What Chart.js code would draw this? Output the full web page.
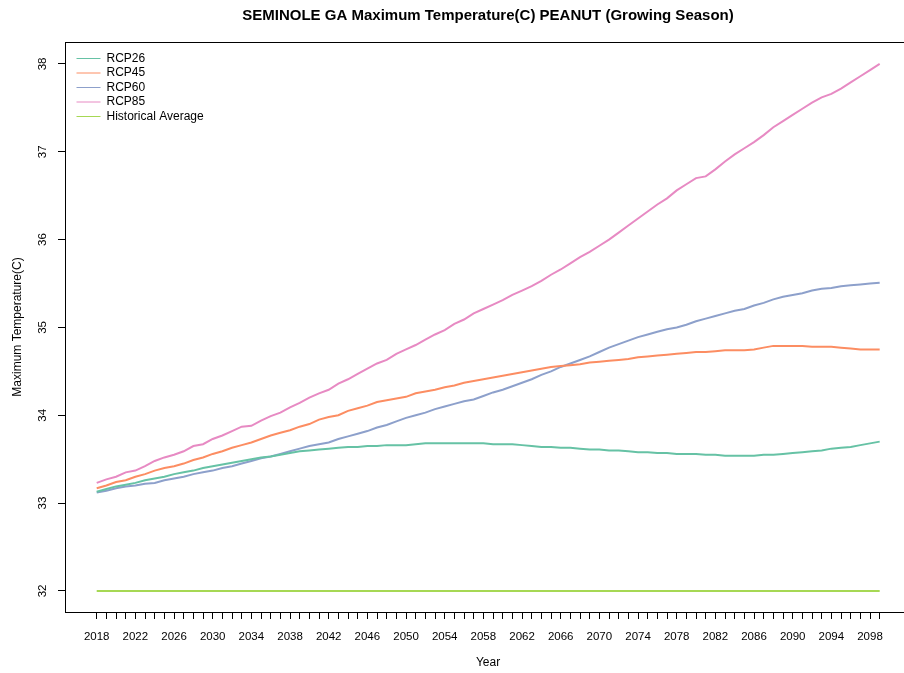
<!DOCTYPE html>
<html lang="en">
<head>
  <meta charset="UTF-8" />
  <title>SEMINOLE GA Maximum Temperature(C) PEANUT</title>
  <script src="https://cdn.jsdelivr.net/npm/chart.js"></script>
  <style>
    html, body { margin: 0; padding: 0; background: #fff; overflow: hidden; }
    .grafico-container { position: relative; width: 976px; height: 673px; }
  </style>
</head>
<body>
  <div class="grafico-container">
    <canvas id="graficoTemp"></canvas>
  </div>

<script>
  const anos = [2018, 2019, 2020, 2021, 2022, 2023, 2024, 2025, 2026, 2027,
    2028, 2029, 2030, 2031, 2032, 2033, 2034, 2035, 2036, 2037,
    2038, 2039, 2040, 2041, 2042, 2043, 2044, 2045, 2046, 2047,
    2048, 2049, 2050, 2051, 2052, 2053, 2054, 2055, 2056, 2057,
    2058, 2059, 2060, 2061, 2062, 2063, 2064, 2065, 2066, 2067,
    2068, 2069, 2070, 2071, 2072, 2073, 2074, 2075, 2076, 2077,
    2078, 2079, 2080, 2081, 2082, 2083, 2084, 2085, 2086, 2087,
    2088, 2089, 2090, 2091, 2092, 2093, 2094, 2095, 2096, 2097,
    2098, 2099];

  const rcp26 = [33.13, 33.16, 33.19, 33.21, 33.23, 33.26, 33.28, 33.30, 33.33, 33.35,
    33.37, 33.40, 33.42, 33.44, 33.46, 33.48, 33.50, 33.52, 33.53, 33.55,
    33.57, 33.59, 33.60, 33.61, 33.62, 33.63, 33.64, 33.64, 33.65, 33.65,
    33.66, 33.66, 33.66, 33.67, 33.68, 33.68, 33.68, 33.68, 33.68, 33.68,
    33.68, 33.67, 33.67, 33.67, 33.66, 33.65, 33.64, 33.64, 33.63, 33.63,
    33.62, 33.61, 33.61, 33.60, 33.60, 33.59, 33.58, 33.58, 33.57, 33.57,
    33.56, 33.56, 33.56, 33.55, 33.55, 33.54, 33.54, 33.54, 33.54, 33.55,
    33.55, 33.56, 33.57, 33.58, 33.59, 33.60, 33.62, 33.63, 33.64, 33.66,
    33.68, 33.70];

  const rcp45 = [33.17, 33.20, 33.24, 33.26, 33.30, 33.33, 33.37, 33.40, 33.42, 33.45,
    33.49, 33.52, 33.56, 33.59, 33.63, 33.66, 33.69, 33.73, 33.77, 33.80,
    33.83, 33.87, 33.90, 33.95, 33.98, 34.00, 34.05, 34.08, 34.11, 34.15,
    34.17, 34.19, 34.21, 34.25, 34.27, 34.29, 34.32, 34.34, 34.37, 34.39,
    34.41, 34.43, 34.45, 34.47, 34.49, 34.51, 34.53, 34.55, 34.56, 34.57,
    34.58, 34.60, 34.61, 34.62, 34.63, 34.64, 34.66, 34.67, 34.68, 34.69,
    34.70, 34.71, 34.72, 34.72, 34.73, 34.74, 34.74, 34.74, 34.75, 34.77,
    34.79, 34.79, 34.79, 34.79, 34.78, 34.78, 34.78, 34.77, 34.76, 34.75,
    34.75, 34.75];

  const rcp60 = [33.12, 33.14, 33.17, 33.19, 33.20, 33.22, 33.23, 33.26, 33.28, 33.30,
    33.33, 33.35, 33.37, 33.40, 33.42, 33.45, 33.48, 33.51, 33.53, 33.56,
    33.59, 33.62, 33.65, 33.67, 33.69, 33.73, 33.76, 33.79, 33.82, 33.86,
    33.89, 33.93, 33.97, 34.00, 34.03, 34.07, 34.10, 34.13, 34.16, 34.18,
    34.22, 34.26, 34.29, 34.33, 34.37, 34.41, 34.46, 34.50, 34.55, 34.59,
    34.63, 34.67, 34.72, 34.77, 34.81, 34.85, 34.89, 34.92, 34.95, 34.98,
    35.00, 35.03, 35.07, 35.10, 35.13, 35.16, 35.19, 35.21, 35.25, 35.28,
    35.32, 35.35, 35.37, 35.39, 35.42, 35.44, 35.45, 35.47, 35.48, 35.49,
    35.50, 35.51];

  const rcp85 = [33.23, 33.27, 33.30, 33.35, 33.37, 33.42, 33.48, 33.52, 33.55, 33.59,
    33.65, 33.67, 33.73, 33.77, 33.82, 33.87, 33.88, 33.94, 33.99, 34.03,
    34.09, 34.14, 34.20, 34.25, 34.29, 34.36, 34.41, 34.47, 34.53, 34.59,
    34.63, 34.70, 34.75, 34.80, 34.86, 34.92, 34.97, 35.04, 35.09, 35.16,
    35.21, 35.26, 35.31, 35.37, 35.42, 35.47, 35.53, 35.60, 35.66, 35.73,
    35.80, 35.86, 35.93, 36.00, 36.08, 36.16, 36.24, 36.32, 36.40, 36.47,
    36.56, 36.63, 36.70, 36.72, 36.80, 36.89, 36.97, 37.04, 37.11, 37.19,
    37.28, 37.35, 37.42, 37.49, 37.56, 37.62, 37.66, 37.72, 37.79, 37.86,
    37.93, 38.00];

  const historico = [32, 32, 32, 32, 32, 32, 32, 32, 32, 32,
    32, 32, 32, 32, 32, 32, 32, 32, 32, 32,
    32, 32, 32, 32, 32, 32, 32, 32, 32, 32,
    32, 32, 32, 32, 32, 32, 32, 32, 32, 32,
    32, 32, 32, 32, 32, 32, 32, 32, 32, 32,
    32, 32, 32, 32, 32, 32, 32, 32, 32, 32,
    32, 32, 32, 32, 32, 32, 32, 32, 32, 32,
    32, 32, 32, 32, 32, 32, 32, 32, 32, 32,
    32, 32];

  const anosRotulados = [2018, 2022, 2026, 2030, 2034, 2038, 2042, 2046, 2050, 2054,
    2058, 2062, 2066, 2070, 2074, 2078, 2082, 2086, 2090, 2094, 2098];
  const ticksY = [32, 33, 34, 35, 36, 37, 38];

  const series = [
    { nome: "RCP26", valores: rcp26, cor: "#66C2A5" },
    { nome: "RCP45", valores: rcp45, cor: "#FC8D62" },
    { nome: "RCP60", valores: rcp60, cor: "#8DA0CB" },
    { nome: "RCP85", valores: rcp85, cor: "#E78AC3" },
    { nome: "Historical Average", valores: historico, cor: "#A6D854" }
  ];

  const fonte = "'Liberation Sans', Arial, sans-serif";
  Chart.defaults.font.family = fonte;
  Chart.defaults.color = "#000";

  // moldura do grafico (estilo R)
  const moldura = {
    id: "moldura",
    afterDraw(chart) {
      const { ctx, chartArea: a } = chart;
      ctx.save();
      ctx.strokeStyle = "#000";
      ctx.lineWidth = 1;
      ctx.strokeRect(a.left + 0.5, a.top + 0.5, a.right - a.left, a.bottom - a.top);
      ctx.restore();
    }
  };

  // rotulos do eixo Y girados 90 graus, como no R
  const rotulosY = {
    id: "rotulosY",
    afterDraw(chart) {
      const { ctx } = chart;
      const escala = chart.scales.y;
      ctx.save();
      ctx.fillStyle = "#000";
      ctx.font = "11.5px " + fonte;
      ctx.textAlign = "center";
      ctx.textBaseline = "middle";
      escala.ticks.forEach(t => {
        const py = escala.getPixelForValue(t.value);
        ctx.save();
        ctx.translate(43, py);
        ctx.rotate(-Math.PI / 2);
        ctx.fillText(String(t.value), 0, 0);
        ctx.restore();
      });
      ctx.restore();
    }
  };

  // coloca a legenda dentro da area, no canto superior esquerdo
  const ajusteLegenda = {
    id: "ajusteLegenda",
    afterLayout(chart) {
      const l = chart.legend;
      if (!l) return;
      const a = chart.chartArea;
      const w = l.right - l.left, h = l.bottom - l.top;
      l.left = a.left + 9; l.right = l.left + w;
      l.top = a.top + 8; l.bottom = l.top + h;
    }
  };

  const ctx = document.getElementById("graficoTemp").getContext("2d");
  new Chart(ctx, {
    type: "line",
    data: {
      datasets: series.map(s => ({
        label: s.nome,
        data: anos.map((a, i) => ({ x: a, y: s.valores[i] })),
        borderColor: s.cor,
        backgroundColor: s.cor,
        borderWidth: 2,
        pointRadius: 0,
        tension: 0,
        fill: false
      }))
    },
    options: {
      responsive: true,
      maintainAspectRatio: false,
      animation: false,
      layout: { padding: 0 },
      plugins: {
        title: {
          display: true,
          text: "SEMINOLE GA Maximum Temperature(C) PEANUT (Growing Season)",
          font: { size: 15, weight: "bold" },
          color: "#000",
          padding: { top: 7, bottom: 17 }
        },
        legend: {
          position: "chartArea",
          align: "start",
          labels: {
            usePointStyle: true,
            pointStyle: "line",
            pointStyleWidth: 24,
            padding: 2.5,
            font: { size: 12 },
            color: "#000",
            generateLabels: chart => {
              const itens = Chart.defaults.plugins.legend.labels.generateLabels(chart);
              itens.forEach(it => { it.lineWidth = 1; });
              return itens;
            }
          }
        },
        tooltip: { enabled: false }
      },
      scales: {
        x: {
          type: "linear",
          min: 2014.72,
          max: 2102.24,
          afterBuildTicks: scale => { scale.ticks = anos.map(v => ({ value: v })); },
          afterFit: scale => { scale.height = 61; },
          grid: { drawOnChartArea: false, tickLength: 7, color: "#000" },
          border: { display: false },
          ticks: {
            autoSkip: false,
            maxRotation: 0,
            minRotation: 0,
            padding: 11,
            font: { size: 11.5 },
            callback: v => anosRotulados.includes(v) ? String(v) : ""
          },
          title: { display: true, text: "Year", font: { size: 12 }, padding: { top: 0, bottom: 3 } }
        },
        y: {
          type: "linear",
          position: "left",
          min: 31.76,
          max: 38.25,
          afterBuildTicks: scale => { scale.ticks = ticksY.map(v => ({ value: v })); },
          afterFit: scale => { scale.width = 65; },
          grid: { drawOnChartArea: false, tickLength: 7, color: "#000" },
          border: { display: false },
          ticks: { display: false },
          title: { display: true, text: "Maximum Temperature(C)", font: { size: 12 }, padding: { top: 10, bottom: 0 } }
        },
        margemDireita: {
          type: "linear",
          position: "right",
          display: true,
          grid: { display: false },
          border: { display: false },
          ticks: { display: false },
          afterFit: scale => { scale.width = 65; }
        }
      }
    },
    plugins: [moldura, rotulosY, ajusteLegenda]
  });
</script>
</body>
</html>
